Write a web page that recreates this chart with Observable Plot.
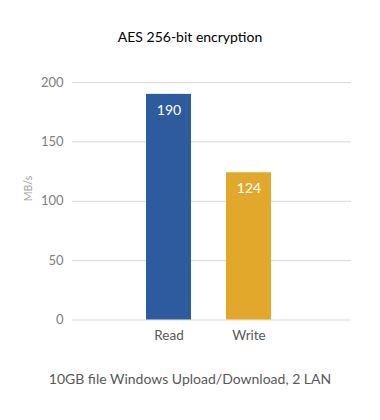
<!DOCTYPE html>
<html>
<head>
<meta charset="utf-8">
<script src="https://cdn.jsdelivr.net/npm/d3@7"></script>
<script src="https://cdn.jsdelivr.net/npm/@observablehq/plot@0.6"></script>
<style>
  html, body { margin: 0; padding: 0; background: #fff; }
  body { width: 380px; height: 420px; font-family: Lato, "Open Sans", sans-serif; }
  #title { height: 60px; box-sizing: border-box; padding-top: 28px; text-align: center; font-size: 14px; color: #000; line-height: 18px; }
  #caption { text-align: center; font-size: 14px; color: #595959; margin-top: 21px; line-height: 16px; }
  svg { display: block; }
</style>
</head>
<body>
<div id="title">AES 256-bit encryption</div>
<div id="chart"></div>
<div id="caption">10GB file Windows Upload/Download, 2 LAN</div>
<script>
const categories = ["Read", "Write"];
const values = [190, 124];
const colors = ["#2e5a9e", "#e1a82c"];
const yTicks = [0, 50, 100, 150, 200];
const yLabel = "MB/s";

const data = categories.map((c, i) => ({category: c, value: values[i], color: colors[i]}));

const chart = Plot.plot({
  width: 380,
  height: 290,
  marginTop: 22,
  marginLeft: 72,
  marginRight: 29,
  marginBottom: 30.5,
  style: {fontFamily: "Lato, 'Open Sans', sans-serif", fontSize: "12px", color: "#595959", background: "#fff"},
  x: {domain: categories, paddingInner: 0.44, paddingOuter: 0.95, align: 0.48},
  y: {domain: [0, 200]},
  marks: [
    Plot.ruleY(yTicks, {stroke: "#d9d9d9", strokeWidth: 1}),
    Plot.barY(data, {x: "category", y: "value", fill: "color"}),
    Plot.text(data, {x: "category", y: "value", text: d => String(d.value), fill: "white", dy: 16, fontSize: 14}),
    Plot.axisX({tickSize: 0, tickPadding: 10, fontSize: 13.5, label: null, color: "#595959"}),
    Plot.axisY({ticks: yTicks, tickSize: 0, tickPadding: 9, fontSize: 13, color: "#808080", label: null}),
    Plot.text([yLabel], {frameAnchor: "left", rotate: -90, dx: -44, fill: "#a6a6a6", fontSize: 10.5})
  ]
});
document.getElementById("chart").appendChild(chart);
</script>
</body>
</html>
